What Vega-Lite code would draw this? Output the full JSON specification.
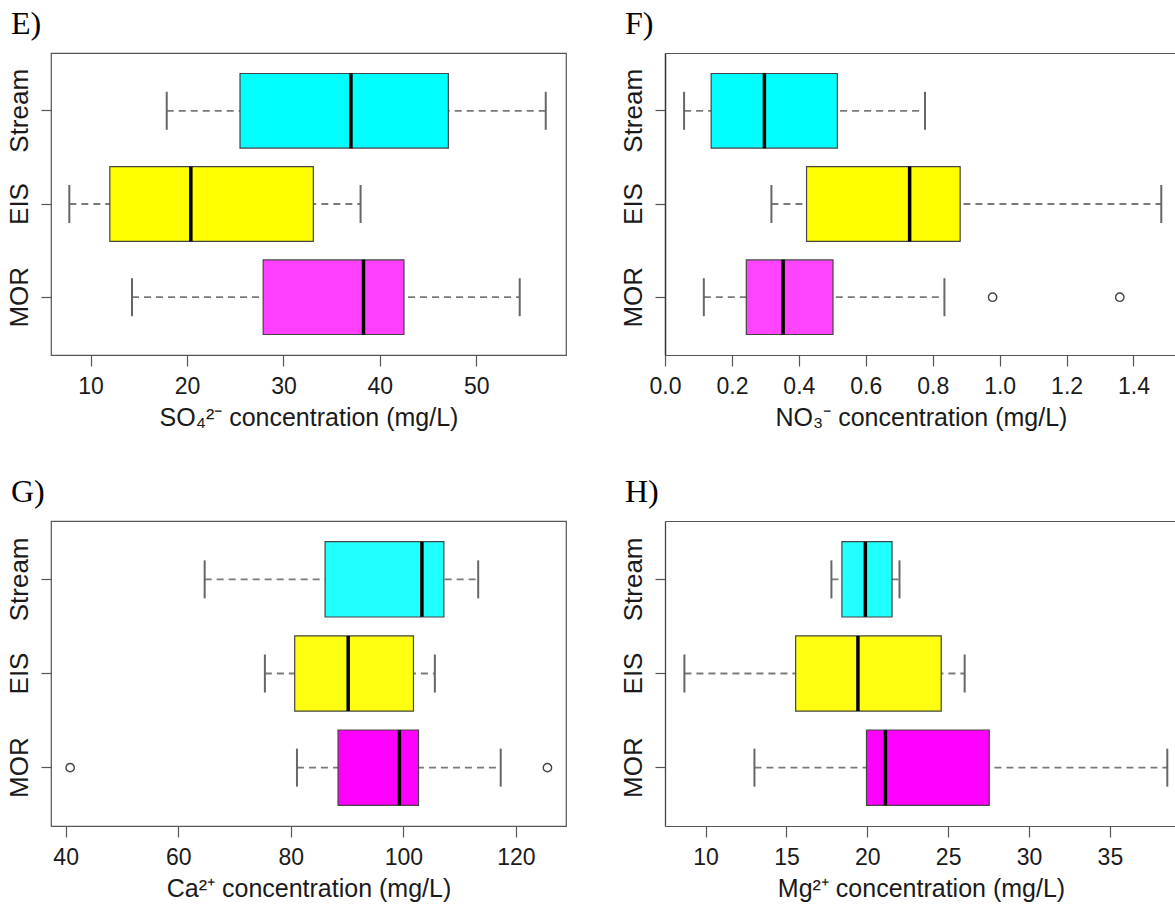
{
  "$schema": "https://vega.github.io/schema/vega-lite/v6.json",
  "padding": {"left": 5, "top": 7, "right": 0, "bottom": 0},
  "background": "white",
  "datasets": {
    "so4": [
      {"site": "Stream", "lower": 17.9, "q1": 25.5, "median": 37.0, "q3": 47.1, "upper": 57.2},
      {"site": "EIS", "lower": 7.8, "q1": 12.0, "median": 20.4, "q3": 33.1, "upper": 38.0},
      {"site": "MOR", "lower": 14.3, "q1": 27.9, "median": 38.3, "q3": 42.5, "upper": 54.5}
    ],
    "no3": [
      {"site": "Stream", "lower": 0.057, "q1": 0.138, "median": 0.297, "q3": 0.515, "upper": 0.777},
      {"site": "EIS", "lower": 0.318, "q1": 0.423, "median": 0.731, "q3": 0.882, "upper": 1.483},
      {"site": "MOR", "lower": 0.116, "q1": 0.243, "median": 0.353, "q3": 0.502, "upper": 0.835}
    ],
    "no3_out": [
      {"site": "MOR", "value": 0.979},
      {"site": "MOR", "value": 1.359}
    ],
    "ca": [
      {"site": "Stream", "lower": 64.7, "q1": 86.1, "median": 103.3, "q3": 107.2, "upper": 113.3},
      {"site": "EIS", "lower": 75.4, "q1": 80.7, "median": 90.2, "q3": 101.8, "upper": 105.6},
      {"site": "MOR", "lower": 81.1, "q1": 88.4, "median": 99.3, "q3": 102.7, "upper": 117.3}
    ],
    "ca_out": [
      {"site": "MOR", "value": 40.8},
      {"site": "MOR", "value": 125.6}
    ],
    "mg": [
      {"site": "Stream", "lower": 17.78, "q1": 18.43, "median": 19.88, "q3": 21.53, "upper": 21.99},
      {"site": "EIS", "lower": 8.69, "q1": 15.57, "median": 19.42, "q3": 24.57, "upper": 26.02},
      {"site": "MOR", "lower": 13.02, "q1": 19.95, "median": 21.12, "q3": 27.54, "upper": 38.55}
    ]
  },
  "columns": 2,
  "spacing": {"row": 44, "column": 52},
  "resolve": {"scale": {"x": "independent", "y": "independent", "color": "independent"}},
  "concat": [
    {
      "title": {"text": "E)"},
      "width": 515,
      "height": 302,
      "data": {"name": "so4"},
      "encoding": {
        "y": {"field": "site", "type": "nominal", "sort": ["Stream", "EIS", "MOR"],
              "scale": {"domain": ["Stream", "EIS", "MOR"], "paddingInner": 0, "paddingOuter": 0.12},
              "axis": {"title": null, "domain": false}}
      },
      "layer": [
        {"mark": {"type": "rule", "strokeDash": [7, 5], "color": "#7a7a7a", "strokeWidth": 1.8},
         "encoding": {"x": {"field": "lower", "type": "quantitative", "title": "SO₄²⁻ concentration (mg/L)",
                            "scale": {"domain": [5.9, 59.3], "nice": false, "zero": false},
                            "axis": {"values": [10, 20, 30, 40, 50], "domain": false}},
                      "x2": {"field": "upper"}}},
        {"mark": {"type": "tick", "color": "#666", "thickness": 2, "size": 38, "opacity": 1},
         "encoding": {"x": {"field": "lower", "type": "quantitative", "title": "SO₄²⁻ concentration (mg/L)"}}},
        {"mark": {"type": "tick", "color": "#666", "thickness": 2, "size": 38, "opacity": 1},
         "encoding": {"x": {"field": "upper", "type": "quantitative", "title": "SO₄²⁻ concentration (mg/L)"}}},
        {"mark": {"type": "bar", "height": {"band": 0.8}, "stroke": "#444", "strokeWidth": 1.2, "opacity": 1},
         "encoding": {"x": {"field": "q1", "type": "quantitative", "title": "SO₄²⁻ concentration (mg/L)"},
                      "x2": {"field": "q3"},
                      "color": {"field": "site", "type": "nominal", "legend": null,
                                "scale": {"domain": ["Stream", "EIS", "MOR"], "range": ["#00FFFF", "#FFFF00", "#FF40FF"]}}}},
        {"mark": {"type": "tick", "color": "#000", "thickness": 3.5, "size": 75, "opacity": 1},
         "encoding": {"x": {"field": "median", "type": "quantitative", "title": "SO₄²⁻ concentration (mg/L)"}}}
      ]
    },
    {
      "title": {"text": "F)"},
      "width": 512,
      "height": 302,
      "view": {"stroke": null},
      "data": {"name": "no3"},
      "encoding": {
        "y": {"field": "site", "type": "nominal", "sort": ["Stream", "EIS", "MOR"],
              "scale": {"domain": ["Stream", "EIS", "MOR"], "paddingInner": 0, "paddingOuter": 0.12},
              "axis": {"title": null, "domain": true, "domainColor": "#333", "domainWidth": 1.5}}
      },
      "resolve": {"axis": {"x": "independent"}},
      "layer": [
        {"mark": {"type": "rule", "strokeDash": [7, 5], "color": "#7a7a7a", "strokeWidth": 1.8},
         "encoding": {"x": {"field": "lower", "type": "quantitative", "title": "NO₃⁻ concentration (mg/L)",
                            "scale": {"domain": [0, 1.53], "nice": false, "zero": false},
                            "axis": {"values": [0, 0.2, 0.4, 0.6, 0.8, 1.0, 1.2, 1.4], "format": ".1f", "domain": true, "domainColor": "#555", "domainWidth": 1.2}},
                      "x2": {"field": "upper"}}},
        {"mark": {"type": "tick", "color": "#666", "thickness": 2, "size": 38, "opacity": 1},
         "encoding": {"x": {"field": "lower", "type": "quantitative", "axis": null}}},
        {"mark": {"type": "tick", "color": "#666", "thickness": 2, "size": 38, "opacity": 1},
         "encoding": {"x": {"field": "upper", "type": "quantitative", "axis": null}}},
        {"mark": {"type": "bar", "height": {"band": 0.8}, "stroke": "#444", "strokeWidth": 1.2, "opacity": 1},
         "encoding": {"x": {"field": "q1", "type": "quantitative", "axis": null},
                      "x2": {"field": "q3"},
                      "color": {"field": "site", "type": "nominal", "legend": null,
                                "scale": {"domain": ["Stream", "EIS", "MOR"], "range": ["#00FFFF", "#FFFF00", "#FF44FF"]}}}},
        {"mark": {"type": "tick", "color": "#000", "thickness": 3.5, "size": 75, "opacity": 1},
         "encoding": {"x": {"field": "median", "type": "quantitative",
                            "axis": {"orient": "top", "labels": false, "ticks": false, "title": null, "domain": true, "domainColor": "#555", "domainWidth": 1.2}}}},
        {"data": {"name": "no3_out"},
         "mark": {"type": "point", "shape": "circle", "filled": false, "size": 70, "stroke": "#444", "strokeWidth": 1.4, "opacity": 1},
         "encoding": {"x": {"field": "value", "type": "quantitative", "axis": null}}}
      ]
    },
    {
      "title": {"text": "G)"},
      "width": 515,
      "height": 305,
      "data": {"name": "ca"},
      "encoding": {
        "y": {"field": "site", "type": "nominal", "sort": ["Stream", "EIS", "MOR"],
              "scale": {"domain": ["Stream", "EIS", "MOR"], "paddingInner": 0, "paddingOuter": 0.12},
              "axis": {"title": null, "domain": false}}
      },
      "layer": [
        {"mark": {"type": "rule", "strokeDash": [7, 5], "color": "#7a7a7a", "strokeWidth": 1.8},
         "encoding": {"x": {"field": "lower", "type": "quantitative", "title": "Ca²⁺ concentration (mg/L)",
                            "scale": {"domain": [37.4, 128.9], "nice": false, "zero": false},
                            "axis": {"values": [40, 60, 80, 100, 120], "domain": false}},
                      "x2": {"field": "upper"}}},
        {"mark": {"type": "tick", "color": "#666", "thickness": 2, "size": 38, "opacity": 1},
         "encoding": {"x": {"field": "lower", "type": "quantitative", "title": "Ca²⁺ concentration (mg/L)"}}},
        {"mark": {"type": "tick", "color": "#666", "thickness": 2, "size": 38, "opacity": 1},
         "encoding": {"x": {"field": "upper", "type": "quantitative", "title": "Ca²⁺ concentration (mg/L)"}}},
        {"mark": {"type": "bar", "height": {"band": 0.8}, "stroke": "#444", "strokeWidth": 1.2, "opacity": 1},
         "encoding": {"x": {"field": "q1", "type": "quantitative", "title": "Ca²⁺ concentration (mg/L)"},
                      "x2": {"field": "q3"},
                      "color": {"field": "site", "type": "nominal", "legend": null,
                                "scale": {"domain": ["Stream", "EIS", "MOR"], "range": ["#22FFFF", "#FFFF11", "#FF00FF"]}}}},
        {"mark": {"type": "tick", "color": "#000", "thickness": 3.5, "size": 75, "opacity": 1},
         "encoding": {"x": {"field": "median", "type": "quantitative", "title": "Ca²⁺ concentration (mg/L)"}}},
        {"data": {"name": "ca_out"},
         "mark": {"type": "point", "shape": "circle", "filled": false, "size": 70, "stroke": "#444", "strokeWidth": 1.4, "opacity": 1},
         "encoding": {"x": {"field": "value", "type": "quantitative", "title": "Ca²⁺ concentration (mg/L)"}}}
      ]
    },
    {
      "title": {"text": "H)"},
      "width": 512,
      "height": 305,
      "view": {"stroke": null},
      "data": {"name": "mg"},
      "encoding": {
        "y": {"field": "site", "type": "nominal", "sort": ["Stream", "EIS", "MOR"],
              "scale": {"domain": ["Stream", "EIS", "MOR"], "paddingInner": 0, "paddingOuter": 0.12},
              "axis": {"title": null, "domain": true, "domainColor": "#444", "domainWidth": 1.3}}
      },
      "resolve": {"axis": {"x": "independent"}},
      "layer": [
        {"mark": {"type": "rule", "strokeDash": [7, 5], "color": "#7a7a7a", "strokeWidth": 1.8},
         "encoding": {"x": {"field": "lower", "type": "quantitative", "title": "Mg²⁺ concentration (mg/L)",
                            "scale": {"domain": [7.49, 39.15], "nice": false, "zero": false},
                            "axis": {"values": [10, 15, 20, 25, 30, 35], "domain": true, "domainColor": "#555", "domainWidth": 1.2}},
                      "x2": {"field": "upper"}}},
        {"mark": {"type": "tick", "color": "#666", "thickness": 2, "size": 38, "opacity": 1},
         "encoding": {"x": {"field": "lower", "type": "quantitative", "axis": null}}},
        {"mark": {"type": "tick", "color": "#666", "thickness": 2, "size": 38, "opacity": 1},
         "encoding": {"x": {"field": "upper", "type": "quantitative", "axis": null}}},
        {"mark": {"type": "bar", "height": {"band": 0.8}, "stroke": "#444", "strokeWidth": 1.2, "opacity": 1},
         "encoding": {"x": {"field": "q1", "type": "quantitative", "axis": null},
                      "x2": {"field": "q3"},
                      "color": {"field": "site", "type": "nominal", "legend": null,
                                "scale": {"domain": ["Stream", "EIS", "MOR"], "range": ["#22FFFF", "#FFFF11", "#FF00FF"]}}}},
        {"mark": {"type": "tick", "color": "#000", "thickness": 3.5, "size": 75, "opacity": 1},
         "encoding": {"x": {"field": "median", "type": "quantitative",
                            "axis": {"orient": "top", "labels": false, "ticks": false, "title": null, "domain": true, "domainColor": "#555", "domainWidth": 1.2}}}}
      ]
    }
  ],
  "config": {
    "font": "Liberation Sans",
    "view": {"stroke": "#555", "strokeWidth": 1.2},
    "title": {"anchor": "start", "frame": "group", "dx": -40, "offset": 12, "baseline": "alphabetic",
              "font": "Liberation Serif", "fontSize": 32, "fontWeight": "normal", "color": "#000"},
    "axis": {"grid": false, "labelFont": "Liberation Sans", "titleFont": "Liberation Sans",
             "labelColor": "#1a1a1a", "titleColor": "#1a1a1a", "titleFontWeight": "normal",
             "tickColor": "#555", "tickWidth": 1.2},
    "axisX": {"tickSize": 11, "labelPadding": 9, "labelFontSize": 23, "titleFontSize": 25, "titlePadding": 7, "labelFlush": false, "labelOverlap": false},
    "axisY": {"tickSize": 10, "labelPadding": 14, "labelFontSize": 26, "labelAngle": -90, "labelAlign": "center", "labelBaseline": "alphabetic"}
  }
}
